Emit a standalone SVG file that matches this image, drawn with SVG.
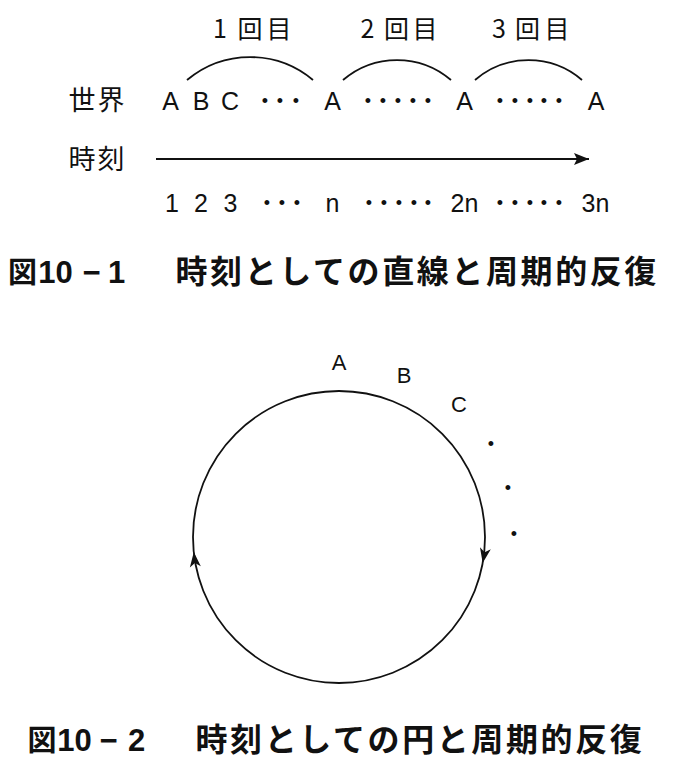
<svg xmlns="http://www.w3.org/2000/svg" xmlns:xlink="http://www.w3.org/1999/xlink" width="674" height="770" viewBox="0 0 674 770">
<style>
.jp{font-family:"Noto Sans CJK JP","Noto Sans",sans-serif;font-size:25px;fill:#111}
.jw{font-family:"Noto Sans CJK JP","Noto Sans",sans-serif;font-size:27px;fill:#111;text-anchor:middle}
.lt{font-family:"Liberation Sans",Arial,sans-serif;font-size:25px;fill:#111;text-anchor:middle}
.dot{font-family:"Liberation Sans",Arial,sans-serif;font-size:18px;fill:#111;text-anchor:middle}
.cl{font-family:"Liberation Sans",Arial,sans-serif;font-size:22px;fill:#111;text-anchor:middle}
.cap{font-family:"Noto Sans CJK JP","Noto Sans",sans-serif;font-size:32px;font-weight:bold;fill:#111}
.fig{font-family:"Noto Sans CJK JP","Noto Sans",sans-serif;font-size:29px;font-weight:bold;fill:#111}
.capn{font-family:"Liberation Sans",Arial,sans-serif;font-size:31px;font-weight:bold;fill:#111;text-anchor:middle}
.ln{fill:none;stroke:#111;stroke-width:1.8}
</style>
<defs>
<path id="ah" d="M0,0 L-15,-5.5 L-11,0 L-15,5.5 Z" fill="#111"/>
<marker id="arr" markerUnits="userSpaceOnUse" markerWidth="18" markerHeight="14" refX="15" refY="6" orient="auto">
<path d="M0,0 L15,6 L0,12 L3,6 Z" fill="#111"/>
</marker>
</defs>
<rect width="674" height="770" fill="#fff"/>

<g id="fig1-labels">
<text class="jp" x="220 236 250 279" y="38" text-anchor="middle">1 回目</text>
<text class="jp" x="367.5 382 396.5 425" y="38" text-anchor="middle">2 回目</text>
<text class="jp" x="499 513 527.5 557" y="38" text-anchor="middle">3 回目</text>
</g>

<g id="row-world">
<text class="jw" x="82 111" y="110">世界</text>
<text class="lt" x="170.5" y="110">A</text>
<text class="lt" x="201" y="110">B</text>
<text class="lt" x="230" y="110">C</text>
<text class="dot" x="265 280 296" y="106.5">•••</text>
<text class="lt" x="332.5" y="110">A</text>
<text class="dot" x="368 383 398 413 428" y="106.5">•••••</text>
<text class="lt" x="464.5" y="110">A</text>
<text class="dot" x="500 515 530 544 559" y="106.5">•••••</text>
<text class="lt" x="596" y="110">A</text>
</g>

<g id="row-time">
<text class="jw" x="82 111" y="169">時刻</text>
</g>

<g id="row-numbers">
<text class="lt" x="172" y="212">1</text>
<text class="lt" x="201" y="212">2</text>
<text class="lt" x="230.5" y="212">3</text>
<text class="dot" x="267 282 297" y="208.5">•••</text>
<text class="lt" x="332.5" y="212">n</text>
<text class="dot" x="369 384 399 414 428" y="208.5">•••••</text>
<text class="lt" x="464.5" y="212">2n</text>
<text class="dot" x="500 515 530 544 559" y="208.5">•••••</text>
<text class="lt" x="595.5" y="212">3n</text>
</g>

<g id="caption1">
<text class="fig" x="8" y="282.5">図</text>
<text class="capn" x="55.5" y="282.5">10</text>
<text class="capn" x="91.5" y="282.5">−</text>
<text class="capn" x="116.5" y="282.5">1</text>
<text class="cap" x="175.5" y="282.5" letter-spacing="2.6">時刻としての直線と周期的反復</text>
</g>

<g id="circle-labels">
<text class="cl" x="339" y="370">A</text>
<text class="cl" x="404" y="383">B</text>
<text class="cl" x="459" y="412">C</text>
<text class="dot" x="491" y="449.5">•</text>
<text class="dot" x="508" y="493.5">•</text>
<text class="dot" x="514" y="539.5">•</text>
</g>

<g id="caption2">
<text class="fig" x="27.5" y="750.5">図</text>
<text class="capn" x="74.5" y="750.5">10</text>
<text class="capn" x="108.5" y="750.5">−</text>
<text class="capn" x="136.5" y="750.5">2</text>
<text class="cap" x="195.5" y="750.5" letter-spacing="2.6">時刻としての円と周期的反復</text>
</g>

<g id="connectors">
<path class="ln" d="M187,80 A98,98 0 0 1 313,80"/>
<path class="ln" d="M343,80 A83,83 0 0 1 451,80"/>
<path class="ln" d="M475,80 A82,82 0 0 1 582,80"/>
<line class="ln" x1="156" y1="159" x2="589" y2="159" stroke-width="1.6" marker-end="url(#arr)"/>
<circle class="ln" cx="339" cy="537" r="146" stroke-width="2"/>
<use xlink:href="#ah" href="#ah" transform="translate(482.7,563) rotate(100.3)"/>
<use xlink:href="#ah" href="#ah" transform="translate(193.8,552) rotate(-95.9)"/>
</g>
</svg>
